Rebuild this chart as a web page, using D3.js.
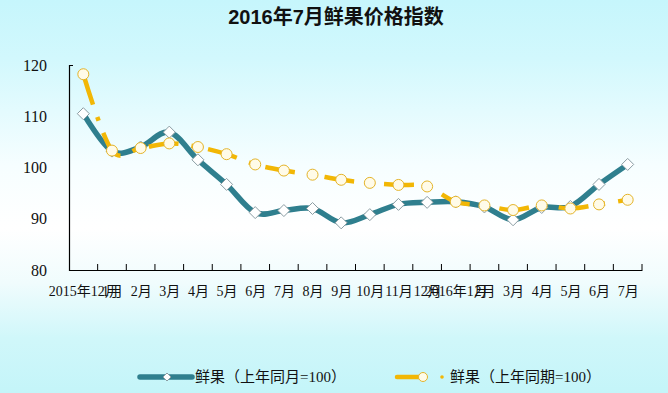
<!DOCTYPE html>
<html>
<head>
<meta charset="utf-8">
<script src="https://cdn.jsdelivr.net/npm/d3@7"></script>
<style>
  html, body { margin: 0; padding: 0; }
  body { width: 668px; height: 393px; overflow: hidden; }
</style>
</head>
<body>
<svg id="chart" width="668" height="393"></svg>
<script>
// ---- data ----
const categories = ["2015年12月", "1月", "2月", "3月", "4月", "5月", "6月", "7月", "8月", "9月",
  "10月", "11月", "12月", "2016年1月", "2月", "3月", "4月", "5月", "6月", "7月"];
const seriesMonth = [110.5, 103.2, 104.0, 106.9, 101.5, 96.7, 91.2, 91.6, 92.0, 89.2,
  90.8, 92.8, 93.2, 93.3, 92.3, 89.8, 92.2, 92.4, 96.7, 100.6];
const seriesPeriod = [118.2, 103.3, 103.8, 104.7, 104.0, 102.6, 100.6, 99.4, 98.6, 97.6,
  97.0, 96.6, 96.3, 93.3, 92.6, 91.7, 92.6, 92.0, 92.8, 93.7];
const yTicks = [80, 90, 100, 110, 120];
const seriesNames = ["鲜果（上年同月=100）", "鲜果（上年同期=100）"];
const titleText = "2016年7月鲜果价格指数";

// ---- setup ----
const W = 668, H = 393;
const svg = d3.select("#chart");
const defs = svg.append("defs");
const grad = defs.append("linearGradient").attr("id", "bg").attr("x1", 0).attr("y1", 0).attr("x2", 0).attr("y2", 1);
[[0, "#c6f6fc"], [0.15, "#d2f8fd"], [0.42, "#f6feff"], [0.58, "#ffffff"], [0.72, "#f0fcfd"], [0.86, "#d0f7fa"], [1, "#c4f5f9"]]
  .forEach(([o, c]) => grad.append("stop").attr("offset", o).attr("stop-color", c));
svg.append("rect").attr("width", W).attr("height", H).attr("fill", "url(#bg)");

const pLeft = 69, pRight = 642, pTop = 65, pBottom = 270;
const xBand = d3.scaleBand().domain(d3.range(categories.length)).range([pLeft, pRight]);
const x = d3.scalePoint().domain(d3.range(categories.length)).range([pLeft, pRight]).padding(0.5);
const y = d3.scaleLinear().domain([80, 120]).range([pBottom, pTop]);

const serif = "'Liberation Serif', 'Noto Sans CJK SC', serif";

// title
svg.append("text").attr("x", 336).attr("y", 24).attr("text-anchor", "middle")
  .attr("font-family", "'Liberation Sans', 'Noto Sans CJK SC', sans-serif")
  .attr("font-weight", "bold").attr("font-size", 20).attr("fill", "#111").text(titleText);

// y axis
const yAxis = d3.axisLeft(y).tickValues(yTicks).tickSizeInner(0).tickSizeOuter(-4).tickPadding(22);
const gy = svg.append("g").attr("transform", `translate(${pLeft},0)`).call(yAxis);
gy.select(".domain").attr("stroke", "#000").attr("stroke-width", 1.2);
gy.selectAll("text").attr("font-family", serif).attr("font-size", 16).attr("fill", "#111");

// x axis
const xAxis = d3.axisBottom(x).tickFormat(i => categories[i]).tickSize(0).tickPadding(16);
const gx = svg.append("g").attr("transform", `translate(0,${pBottom})`).call(xAxis);
gx.select(".domain").attr("stroke", "#000").attr("stroke-width", 1.2);
gx.selectAll("text").attr("font-family", serif).attr("font-size", 14).attr("fill", "#111");
// x tick marks at category boundaries (pointing up)
svg.append("g").selectAll("line").data(d3.range(categories.length)).join("line")
  .attr("x1", i => xBand(i) + xBand.bandwidth()).attr("x2", i => xBand(i) + xBand.bandwidth())
  .attr("y1", pBottom).attr("y2", pBottom - 6).attr("stroke", "#000").attr("stroke-width", 1);

// lines
const teal = "#2f7f8e", gold = "#f2b705";
const line = d3.line().x((d, i) => x(i)).y(d => y(d)).curve(d3.curveCardinal);
const diamond = (cx, cy, r) => `M${cx},${cy - r}L${cx + r},${cy}L${cx},${cy + r}L${cx - r},${cy}Z`;

svg.append("path").attr("d", line(seriesMonth)).attr("fill", "none")
  .attr("stroke", teal).attr("stroke-width", 5.5).attr("stroke-linejoin", "round");
svg.append("g").selectAll("path").data(seriesMonth).join("path")
  .attr("d", (d, i) => diamond(x(i), y(d), 6))
  .attr("fill", "#ffffff").attr("stroke", "#8b9da3").attr("stroke-width", 1);

svg.append("path").attr("d", line(seriesPeriod)).attr("fill", "none")
  .attr("stroke", gold).attr("stroke-width", 4.5)
  .attr("stroke-dasharray", "30,13,4,13").attr("stroke-dashoffset", -2);
svg.append("g").selectAll("circle").data(seriesPeriod).join("circle")
  .attr("cx", (d, i) => x(i)).attr("cy", d => y(d)).attr("r", 5.5)
  .attr("fill", "#fffbe8").attr("stroke", "#e4b42a").attr("stroke-width", 1);

// legend
const ly = 377;
const lg = svg.append("g");
lg.append("line").attr("x1", 140).attr("x2", 192).attr("y1", ly).attr("y2", ly)
  .attr("stroke", teal).attr("stroke-width", 5.5).attr("stroke-linecap", "round");
lg.append("path").attr("d", diamond(167, ly, 4)).attr("fill", "#fff").attr("stroke", "#8b9da3").attr("stroke-width", 1);
lg.append("text").attr("x", 195).attr("y", ly + 5).attr("font-family", serif).attr("font-size", 15)
  .attr("fill", "#111").text(seriesNames[0]);

lg.append("line").attr("x1", 397).attr("x2", 424).attr("y1", ly).attr("y2", ly)
  .attr("stroke", gold).attr("stroke-width", 4.5).attr("stroke-linecap", "round");
lg.append("circle").attr("cx", 423).attr("cy", ly).attr("r", 4.5)
  .attr("fill", "#fffbe8").attr("stroke", "#e4b42a").attr("stroke-width", 1);
lg.append("circle").attr("cx", 442).attr("cy", ly).attr("r", 1.8).attr("fill", gold);
lg.append("text").attr("x", 450).attr("y", ly + 5).attr("font-family", serif).attr("font-size", 15)
  .attr("fill", "#111").text(seriesNames[1]);
</script>
</body>
</html>
